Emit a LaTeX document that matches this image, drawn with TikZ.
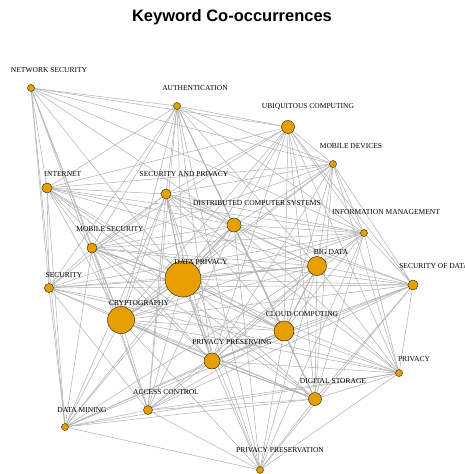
\documentclass[tikz,border=0pt]{standalone}
\usepackage{fontspec}
\setmainfont{Liberation Serif}
\newfontfamily\titlefont{Liberation Sans}
\usepackage{tikz}
\usetikzlibrary{backgrounds}
\usepackage{xcolor}
\definecolor{kwfill}{RGB}{230,159,0}
\definecolor{kwline}{RGB}{70,50,10}
\definecolor{linkgray}{RGB}{180,180,180}

\begin{document}
\begin{tikzpicture}[x=1pt, y=-1pt]
        % Define block styles
        \tikzstyle{keyword} = [circle, draw=kwline, fill=kwfill, line width=0.5pt, inner sep=0pt]
        \tikzstyle{kwlabel} = [font=\fontsize{7.5}{8}\selectfont, inner sep=0pt, xshift=18pt, yshift=18pt]
        \tikzstyle{link} = [draw=linkgray, line width=0.55pt]
        \tikzstyle{heavy} = [draw=linkgray, line width=1.1pt]

        \useasboundingbox (0,0) rectangle (464,474);
        \node [font=\titlefont\bfseries\fontsize{16.5}{18}\selectfont] (title) at (232,17) {Keyword Co-occurrences};

        % Define nodes
        \node [keyword, minimum size=7pt,  label={[kwlabel]center:NETWORK SECURITY}] (NS) at (31,88) {};
        \node [keyword, minimum size=7pt,  label={[kwlabel]center:AUTHENTICATION}] (AU) at (177,106) {};
        \node [keyword, minimum size=13pt, label={[kwlabel, xshift=2pt, yshift=2pt]center:UBIQUITOUS COMPUTING}] (UC) at (288,127) {};
        \node [keyword, minimum size=7pt,  label={[kwlabel]center:MOBILE DEVICES}] (MD) at (333,164) {};
        \node [keyword, minimum size=10pt, label={[kwlabel, xshift=-2pt, yshift=-4pt]center:INTERNET}] (IN) at (47,188) {};
        \node [keyword, minimum size=10pt, label={[kwlabel, yshift=2pt]center:SECURITY AND PRIVACY}] (SP) at (166,194) {};
        \node [keyword, minimum size=14pt, label={[kwlabel, xshift=5pt, yshift=4pt]center:DISTRIBUTED COMPUTER SYSTEMS}] (DCS) at (234,225) {};
        \node [keyword, minimum size=7pt,  label={[kwlabel, xshift=4pt, yshift=3pt]center:INFORMATION MANAGEMENT}] (IM) at (364,233) {};
        \node [keyword, minimum size=10pt, label={[kwlabel, yshift=1pt]center:MOBILE SECURITY}] (MS) at (92,248) {};
        \node [keyword, minimum size=19pt, label={[kwlabel, xshift=-4pt, yshift=-4pt]center:BIG DATA}] (BD) at (317,266) {};
        \node [keyword, minimum size=10pt, label={[kwlabel, xshift=3pt, yshift=1pt]center:SECURITY OF DATA}] (SD) at (413,285) {};
        \node [keyword, minimum size=36pt, label={[kwlabel, yshift=-1pt]center:DATA PRIVACY}] (DP) at (183,279) {};
        \node [keyword, minimum size=9pt,  label={[kwlabel, xshift=-3pt, yshift=-5pt]center:SECURITY}] (SE) at (49,288) {};
        \node [keyword, minimum size=27pt, label={[kwlabel, yshift=-1pt]center:CRYPTOGRAPHY}] (CR) at (121,320) {};
        \node [keyword, minimum size=20pt, label={[kwlabel, yshift=-1pt]center:CLOUD COMPUTING}] (CC) at (284,331) {};
        \node [keyword, minimum size=16pt, label={[kwlabel, xshift=2pt, yshift=1pt]center:PRIVACY PRESERVING}] (PPg) at (212,361) {};
        \node [keyword, minimum size=7pt,  label={[kwlabel, xshift=-3pt, yshift=-4pt]center:PRIVACY}] (PR) at (399,373) {};
        \node [keyword, minimum size=13pt, label={[kwlabel]center:DIGITAL STORAGE}] (DS) at (315,399) {};
        \node [keyword, minimum size=9pt,  label={[kwlabel]center:ACCESS CONTROL}] (AC) at (148,410) {};
        \node [keyword, minimum size=7pt,  label={[kwlabel, xshift=-1pt, yshift=-1pt]center:DATA MINING}] (DM) at (65,427) {};
        \node [keyword, minimum size=7pt,  label={[kwlabel, xshift=2pt, yshift=2pt]center:PRIVACY PRESERVATION}] (PPn) at (260,470) {};

        % Connect nodes with paths
        \begin{scope}[on background layer]
        \path [link] (NS) edge (AU) edge (UC) edge (MD) edge (IM) edge (DCS) edge (DP) edge (IN) edge (SE) edge (MS) edge (CR) edge (DM) edge (AC);
        \path [link] (AU) edge (UC) edge (MD) edge (IN) edge (SP) edge (DCS) edge (IM) edge (MS) edge (BD) edge (DP) edge (SE) edge (CR) edge (CC) edge (PPg) edge (DS) edge (AC) edge (PPn);
        \path [link] (UC) edge (MD) edge (IN) edge (SP) edge (DCS) edge (IM) edge (BD) edge (SD) edge (DP) edge (CR) edge (CC) edge (PPg) edge (PR) edge (DS) edge (MS);
        \path [link] (MD) edge (IN) edge (SP) edge (DCS) edge (IM) edge (BD) edge (SD) edge (DP) edge (CR) edge (CC) edge (PPg) edge (PR) edge (DS) edge (MS);
        \path [link] (IN) edge (SP) edge (DCS) edge (IM) edge (MS) edge (BD) edge (DP) edge (SE) edge (CR) edge (CC) edge (PPg) edge (DS) edge (DM);
        \path [link] (SP) edge (DCS) edge (IM) edge (MS) edge (BD) edge (SD) edge (SE) edge (CR) edge (CC) edge (PPg) edge (PR) edge (AC) edge (DM) edge (PPn);
        \path [link] (DCS) edge (IM) edge (MS) edge (BD) edge (SD) edge (SE) edge (CR) edge (CC) edge (PR) edge (DS) edge (AC) edge (DM) edge (PPn);
        \path [link] (IM) edge (MS) edge (BD) edge (SD) edge (DP) edge (SE) edge (CR) edge (CC) edge (PPg) edge (PR) edge (DS) edge (PPn);
        \path [link] (MS) edge (BD) edge (SD) edge (DP) edge (SE) edge (CR) edge (CC) edge (PPg) edge (DS) edge (AC) edge (DM);
        \path [link] (BD) edge (SD) edge (SE) edge (CR) edge (PPg) edge (PR) edge (DS) edge (AC) edge (DM) edge (PPn);
        \path [link] (SD) edge (DP) edge (SE) edge (CR) edge (CC) edge (PPg) edge (PR) edge (DS) edge (AC) edge (DM) edge (PPn);
        \path [link] (DP) edge (SE) edge (PR) edge (DS) edge (AC) edge (DM) edge (PPn);
        \path [link] (SE) edge (CC) edge (PPg) edge (PR) edge (DS) edge (AC) edge (DM);
        \path [link] (CR) edge (CC) edge (PR) edge (DS) edge (AC) edge (DM) edge (PPn);
        \path [link] (CC) edge (PR) edge (DS) edge (AC) edge (DM) edge (PPn);
        \path [link] (PPg) edge (PR) edge (AC) edge (DM) edge (PPn);
        \path [link] (PR) edge (DS) edge (AC) edge (DM) edge (PPn);
        \path [link] (DS) edge (AC) edge (DM) edge (PPn);
        \path [link] (AC) edge (DM) edge (PPn);
        \path [link] (DM) edge (PPn);
        % stronger ties
        \path [heavy] (DP) edge (CR) edge (PPg) edge (CC) edge (BD) edge (DCS) edge (SP) edge (MS);
        \path [heavy] (PPg) edge (DS) edge (CR) edge (CC);
        \path [heavy] (CC) edge (BD);
        \end{scope}
    \end{tikzpicture}
\end{document}
